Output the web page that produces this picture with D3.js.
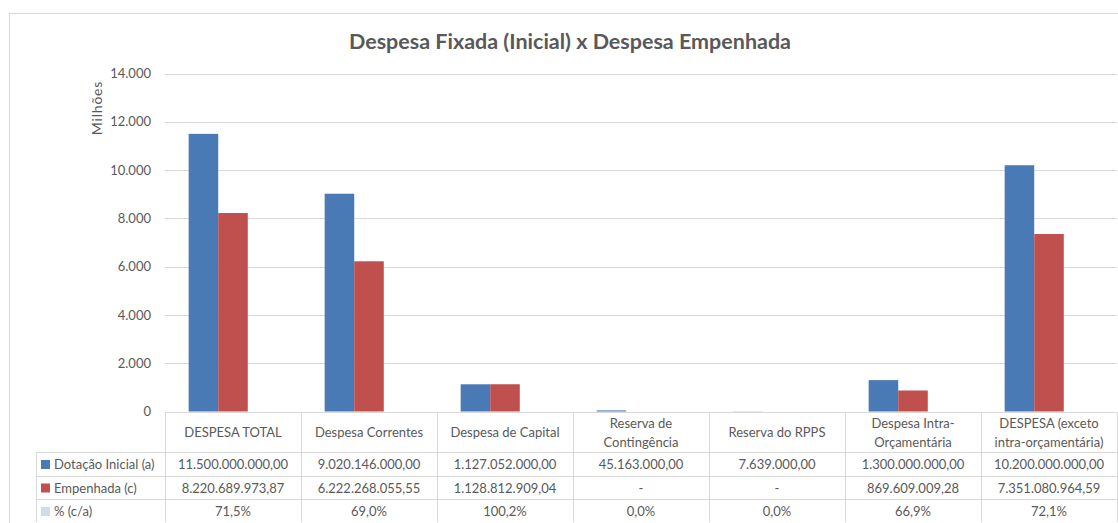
<!DOCTYPE html>
<html><head><meta charset="utf-8">
<script src="https://cdn.jsdelivr.net/npm/d3@7"></script>
<style>
html,body{margin:0;padding:0;background:#fff;}
svg text{font-family:Lato,"Open Sans",sans-serif;fill:#595959;}
</style></head>
<body>
<svg id="chart" width="1118" height="523"></svg>
<script>
// ---------- data ----------
const categories = ["DESPESA TOTAL","Despesa Correntes","Despesa de Capital","Reserva de|Contingência","Reserva do RPPS","Despesa Intra-|Orçamentária","DESPESA (exceto|intra-orçamentária)"];
const seriesNames = ["Dotação Inicial (a)","Empenhada (c)","% (c/a)"];
const dotacao = [11500000000.00, 9020146000.00, 1127052000.00, 45163000.00, 7639000.00, 1300000000.00, 10200000000.00];
const empenhada = [8220689973.87, 6222268055.55, 1128812909.04, 0, 0, 869609009.28, 7351080964.59];
const percent = [71.5, 69.0, 100.2, 0.0, 0.0, 66.9, 72.1];
const yTicks = [0,2000,4000,6000,8000,10000,12000,14000];
const colors = ["#4a7ab6","#c0504d","#d3dbe7"];

const svg = d3.select("#chart");
const loc = d3.formatLocale({decimal:",", thousands:".", grouping:[3], currency:["R$",""]});
const fmtTick = loc.format(",.0f");
const fmtMoney = loc.format(",.2f");
const fmtPct = loc.format(".1f");

const L = 165, R = 1117, T = 73.5, B = 411.5;
const x0 = d3.scaleBand().domain(categories).range([L, R]).paddingInner(0).paddingOuter(0);
const x1 = d3.scaleBand().domain(seriesNames).range([0, x0.bandwidth()]).paddingInner(0).paddingOuter(0.8);
const y = d3.scaleLinear().domain([0, 14000]).range([B, T]);

// outer frame
svg.append("rect").attr("x",9.5).attr("y",13.5).attr("width",1130).attr("height",540)
  .attr("fill","#fff").attr("stroke","#d9d9d9");

// title
svg.append("text").attr("x",570).attr("y",49).attr("text-anchor","middle")
  .style("font-size","20px").style("font-weight","bold")
  .attr("textLength",442).attr("lengthAdjust","spacingAndGlyphs")
  .text("Despesa Fixada (Inicial) x Despesa Empenhada");

// gridlines
svg.append("g").selectAll("line").data(yTicks.filter(d=>d>0)).join("line")
  .attr("x1",L).attr("x2",R).attr("y1",d=>Math.round(y(d))+0.5).attr("y2",d=>Math.round(y(d))+0.5)
  .attr("stroke","#d9d9d9");

// y axis
const yAxis = d3.axisLeft(y).tickValues(yTicks).tickFormat(fmtTick).tickSize(0).tickPadding(0);
const gy = svg.append("g").attr("transform","translate(151,0)").call(yAxis);
gy.select(".domain").remove();
gy.selectAll("text").style("font-size","13px").style("font-family","Lato,sans-serif").attr("fill","#595959");

svg.append("text").attr("transform","translate(102,108) rotate(-90)").attr("text-anchor","middle")
  .style("font-size","14px").style("letter-spacing","0.8px").text("Milhões");

// bars
const valuesM = categories.map((c,i)=>[dotacao[i]/1e6, empenhada[i]/1e6, percent[i]/100]);
const groups = svg.append("g").selectAll("g").data(categories).join("g")
  .attr("transform",d=>`translate(${x0(d)},0)`);
groups.selectAll("rect").data((d,i)=>seriesNames.map((s,j)=>({s, v: valuesM[i][j]}))).join("rect")
  .attr("x",d=>x1(d.s)).attr("width",x1.bandwidth())
  .attr("y",d=>y(d.v)).attr("height",d=>Math.max(0, y(0)-y(d.v)))
  .attr("fill",(d,j)=>colors[seriesNames.indexOf(d.s)]);

// data table
const rowY = [412, 452, 476, 499.5, 523];
const LEG = 36;
const tg = svg.append("g").attr("stroke","#d9d9d9").attr("shape-rendering","crispEdges");
tg.append("line").attr("x1",L).attr("x2",R).attr("y1",rowY[0]).attr("y2",rowY[0]);
rowY.slice(1).forEach(yy=>tg.append("line").attr("x1",LEG).attr("x2",R).attr("y1",yy).attr("y2",yy));
d3.range(categories.length+1).forEach(i=>{
  const xx = i<categories.length ? x0(categories[i]) : R;
  tg.append("line").attr("x1",xx).attr("x2",xx).attr("y1",rowY[0]).attr("y2",522);
});
tg.append("line").attr("x1",LEG).attr("x2",LEG).attr("y1",rowY[1]).attr("y2",522);

// header labels
categories.forEach(c=>{
  const lines = c.split("|");
  const cx = x0(c) + x0.bandwidth()/2;
  const t = svg.append("text").attr("text-anchor","middle").style("font-size","13px");
  lines.forEach((ln,k)=>{
    const yy = lines.length===1 ? 436.5 : 427.5 + k*19;
    t.append("tspan").attr("x",cx).attr("y",yy).text(ln);
  });
});

// rows
const rows = [
  dotacao.map(v=>fmtMoney(v)),
  empenhada.map(v=> v===0 ? "-" : fmtMoney(v)),
  percent.map(v=>fmtPct(v)+"%")
];
const rowCy = [464.5, 488, 511.5];
rows.forEach((r,ri)=>{
  r.forEach((txt,ci)=>{
    svg.append("text").attr("x",x0(categories[ci])+x0.bandwidth()/2).attr("y",rowCy[ri]+4.5)
      .attr("text-anchor","middle").style("font-size","13px").text(txt);
  });
  svg.append("rect").attr("x",41).attr("y",rowCy[ri]-4.5).attr("width",9).attr("height",9).attr("fill",colors[ri]);
  svg.append("text").attr("x",54).attr("y",rowCy[ri]+4.5).style("font-size","13px").text(seriesNames[ri]);
});
</script>
</body></html>
